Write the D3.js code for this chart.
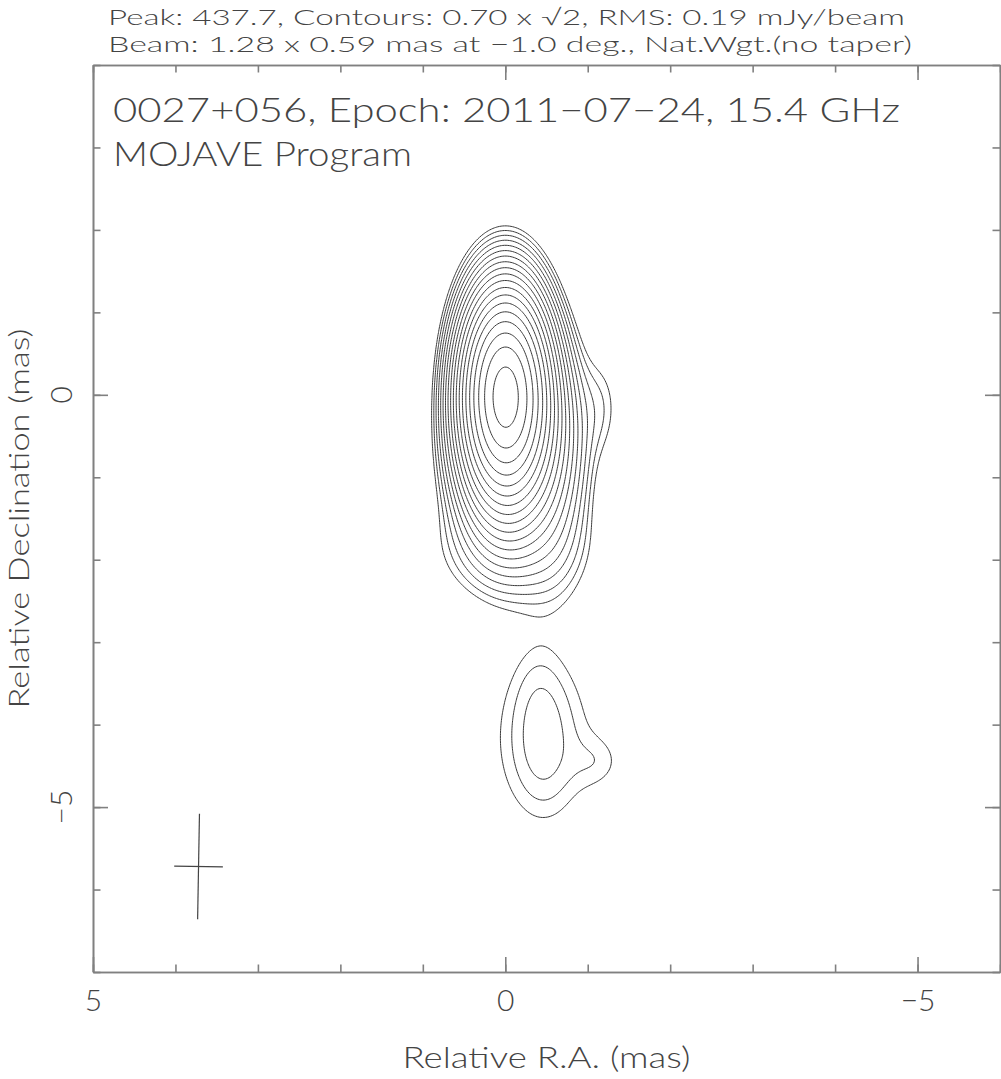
<!DOCTYPE html>
<html>
<head>
<meta charset="utf-8">
<script src="https://cdn.jsdelivr.net/npm/d3@7"></script>
<style>
  body { margin: 0; background: #fff; }
  svg text { font-family: Lato, "DejaVu Sans", sans-serif; font-weight: 300; fill: #444; }
</style>
</head>
<body>
<svg id="chart" width="1001" height="1079"></svg>
<script>
// text printed above and inside the frame
const headerLines = [
  "Peak: 437.7, Contours: 0.70 x \u221A2, RMS: 0.19 mJy/beam",
  "Beam: 1.28 x 0.59 mas at \u22121.0 deg., Nat.Wgt.(no taper)",
];
const titleLines = ["0027+056, Epoch: 2011\u221207\u221224, 15.4 GHz", "MOJAVE Program"];
const xTitle = "Relative R.A. (mas)";
const yTitle = "Relative Declination (mas)";

// axis extents (mas) and labelled ticks
const raRange = [5, -6];
const decRange = [4, -7];
const labelTicks = [5, 0, -5];

// contour levels, mJy/beam (0.70 x sqrt2 steps up to the peak)
const contourLevels = [0.70, 0.99, 1.40, 1.98, 2.80, 3.96, 5.60, 7.92, 11.2, 15.8,
  22.4, 31.7, 44.8, 63.4, 89.6, 126.7, 179.2, 253.4, 358.4];

// brightness model:
// [ra, dec, peak mJy/beam, fwhm along pa, fwhm across pa, pa deg]
const components = [
  [0.0, 0.0, 410, 1.35, 0.57, 0],      // core
  [-0.12, -0.55, 38, 1.53, 0.78, -3],  // inner jet
  [-0.55, -1.2, 2.5, 1.6, 0.6, 0],     // jet, western edge
  [-0.05, -1.9, 1.2, 0.95, 1.4, 0],    // jet tail
  [-1.15, -0.15, 0.8, 1.0, 0.42, 0],   // western bump
  [-0.46, -4.22, 0.68, 1.06, 0.47, 0], // southern knot, compact part
  [-0.46, -4.17, 1.15, 2.0, 1.18, 0],  // southern knot, diffuse part
  [-0.4, -3.55, 0.28, 0.9, 0.45, 0],   // southern knot, northern tip
  [-1.15, -4.45, 0.5, 0.55, 0.55, 0],  // southern knot, west shoulder
];

// restoring beam drawn as a cross
const beam = { ra: 3.72, dec: -5.72, major: 1.28, minor: 0.59, pa: -1.0 };

const svg = d3.select("#chart");
const frame = { left: 93, right: 1000, top: 65, bottom: 972 };

const x = d3.scaleLinear().domain(raRange).range([frame.left, frame.right]);
const y = d3.scaleLinear().domain(decRange).range([frame.top, frame.bottom]);

// --- model image on a grid, then contours
const step = 0.02;
const nx = Math.round((raRange[0] - raRange[1]) / step);
const ny = Math.round((decRange[0] - decRange[1]) / step);
const comps = components.map(([ra, dec, peak, fa, fb, pa]) => {
  const t = (pa * Math.PI) / 180;
  return {
    ra, dec, peak,
    ka: (4 * Math.LN2) / (fa * fa),
    kb: (4 * Math.LN2) / (fb * fb),
    s: Math.sin(t), c: Math.cos(t),
  };
});
const values = new Float64Array(nx * ny);
for (let j = 0; j < ny; j++) {
  const dec = decRange[0] - (j + 0.5) * step;
  for (let i = 0; i < nx; i++) {
    const ra = raRange[0] - (i + 0.5) * step;
    let v = 0;
    for (const p of comps) {
      const dx = ra - p.ra, dy = dec - p.dec;
      const a = dx * p.s + dy * p.c;
      const b = dx * p.c - dy * p.s;
      v += p.peak * Math.exp(-(p.ka * a * a + p.kb * b * b));
    }
    values[j * nx + i] = v;
  }
}

const contours = d3.contours().size([nx, ny]).thresholds(contourLevels)(values);
const toPx = d3.geoTransform({
  point(px, py) {
    this.stream.point(x(raRange[0] - px * step), y(decRange[0] - py * step));
  },
});
const path = d3.geoPath(toPx);

svg.append("g")
  .attr("fill", "none")
  .attr("stroke", "#3a3a3a")
  .attr("stroke-width", 1)
  .selectAll("path")
  .data(contours)
  .join("path")
  .attr("d", path);

// --- beam cross
const t = (beam.pa * Math.PI) / 180;
const beamAxes = [
  [beam.major / 2, Math.sin(t), Math.cos(t)],
  [beam.minor / 2, Math.cos(t), -Math.sin(t)],
];
svg.append("g")
  .attr("stroke", "#444")
  .attr("stroke-width", 1.2)
  .selectAll("line")
  .data(beamAxes)
  .join("line")
  .attr("x1", ([h, sr]) => x(beam.ra + h * sr))
  .attr("x2", ([h, sr]) => x(beam.ra - h * sr))
  .attr("y1", ([h, , sd]) => y(beam.dec + h * sd))
  .attr("y2", ([h, , sd]) => y(beam.dec - h * sd));

// --- frame with inward ticks on all four sides
const raMinor = d3.range(raRange[1], raRange[0] + 1);
const decMinor = d3.range(decRange[1], decRange[0] + 1);
const fmt = (d) => (d < 0 ? "\u2212" + Math.abs(d) : String(d));

function side(axisFn, scale, minor, pos, labels) {
  const g = svg.append("g").attr("transform", pos);
  g.append("g").call(axisFn(scale).tickValues(minor).tickSizeInner(-7.5).tickSizeOuter(0).tickFormat(""));
  const major = g.append("g").call(
    axisFn(scale).tickValues(labelTicks).tickSizeInner(-15).tickSizeOuter(0)
      .tickFormat(labels ? fmt : "").tickPadding(18)
  );
  g.selectAll(".domain, line").attr("stroke", "#808080").attr("stroke-width", 1.6);
  major.selectAll("text").attr("font-family", null).attr("fill", null).style("font-size", "30px");
  if (!labels) g.selectAll("text").remove();
  return major;
}

side(d3.axisBottom, x, raMinor, `translate(0,${frame.bottom})`, true);
side(d3.axisTop, x, raMinor, `translate(0,${frame.top})`, false);
side(d3.axisLeft, y, decMinor, `translate(${frame.left},0)`, false);
side(d3.axisRight, y, decMinor, `translate(${frame.right},0)`, false);

// left labels are written sideways, as in the original
svg.append("g")
  .selectAll("text")
  .data(labelTicks)
  .join("text")
  .attr("transform", (d) => `translate(${frame.left - 21},${y(d)}) rotate(-90)`)
  .attr("text-anchor", "middle")
  .style("font-size", "30px")
  .text(fmt);

// --- text
svg.append("g")
  .selectAll("text")
  .data(headerLines)
  .join("text")
  .attr("x", 108)
  .attr("y", (d, i) => 25 + i * 27)
  .attr("textLength", (d, i) => [797, 804][i])
  .attr("lengthAdjust", "spacingAndGlyphs")
  .style("font-size", "21.5px")
  .text((d) => d);

svg.append("g")
  .selectAll("text")
  .data(titleLines)
  .join("text")
  .attr("x", 113)
  .attr("y", (d, i) => 122 + i * 44)
  .attr("textLength", (d, i) => [787, 299][i])
  .attr("lengthAdjust", "spacingAndGlyphs")
  .style("font-size", "34px")
  .text((d) => d);

svg.append("text")
  .attr("x", (frame.left + frame.right) / 2)
  .attr("y", 1068)
  .attr("text-anchor", "middle")
  .attr("textLength", 288)
  .attr("lengthAdjust", "spacingAndGlyphs")
  .style("font-size", "29px")
  .text(xTitle);

svg.append("text")
  .attr("transform", `translate(29,${(frame.top + frame.bottom) / 2}) rotate(-90)`)
  .attr("text-anchor", "middle")
  .attr("textLength", 380)
  .attr("lengthAdjust", "spacingAndGlyphs")
  .style("font-size", "28px")
  .text(yTitle);
</script>
</body>
</html>
